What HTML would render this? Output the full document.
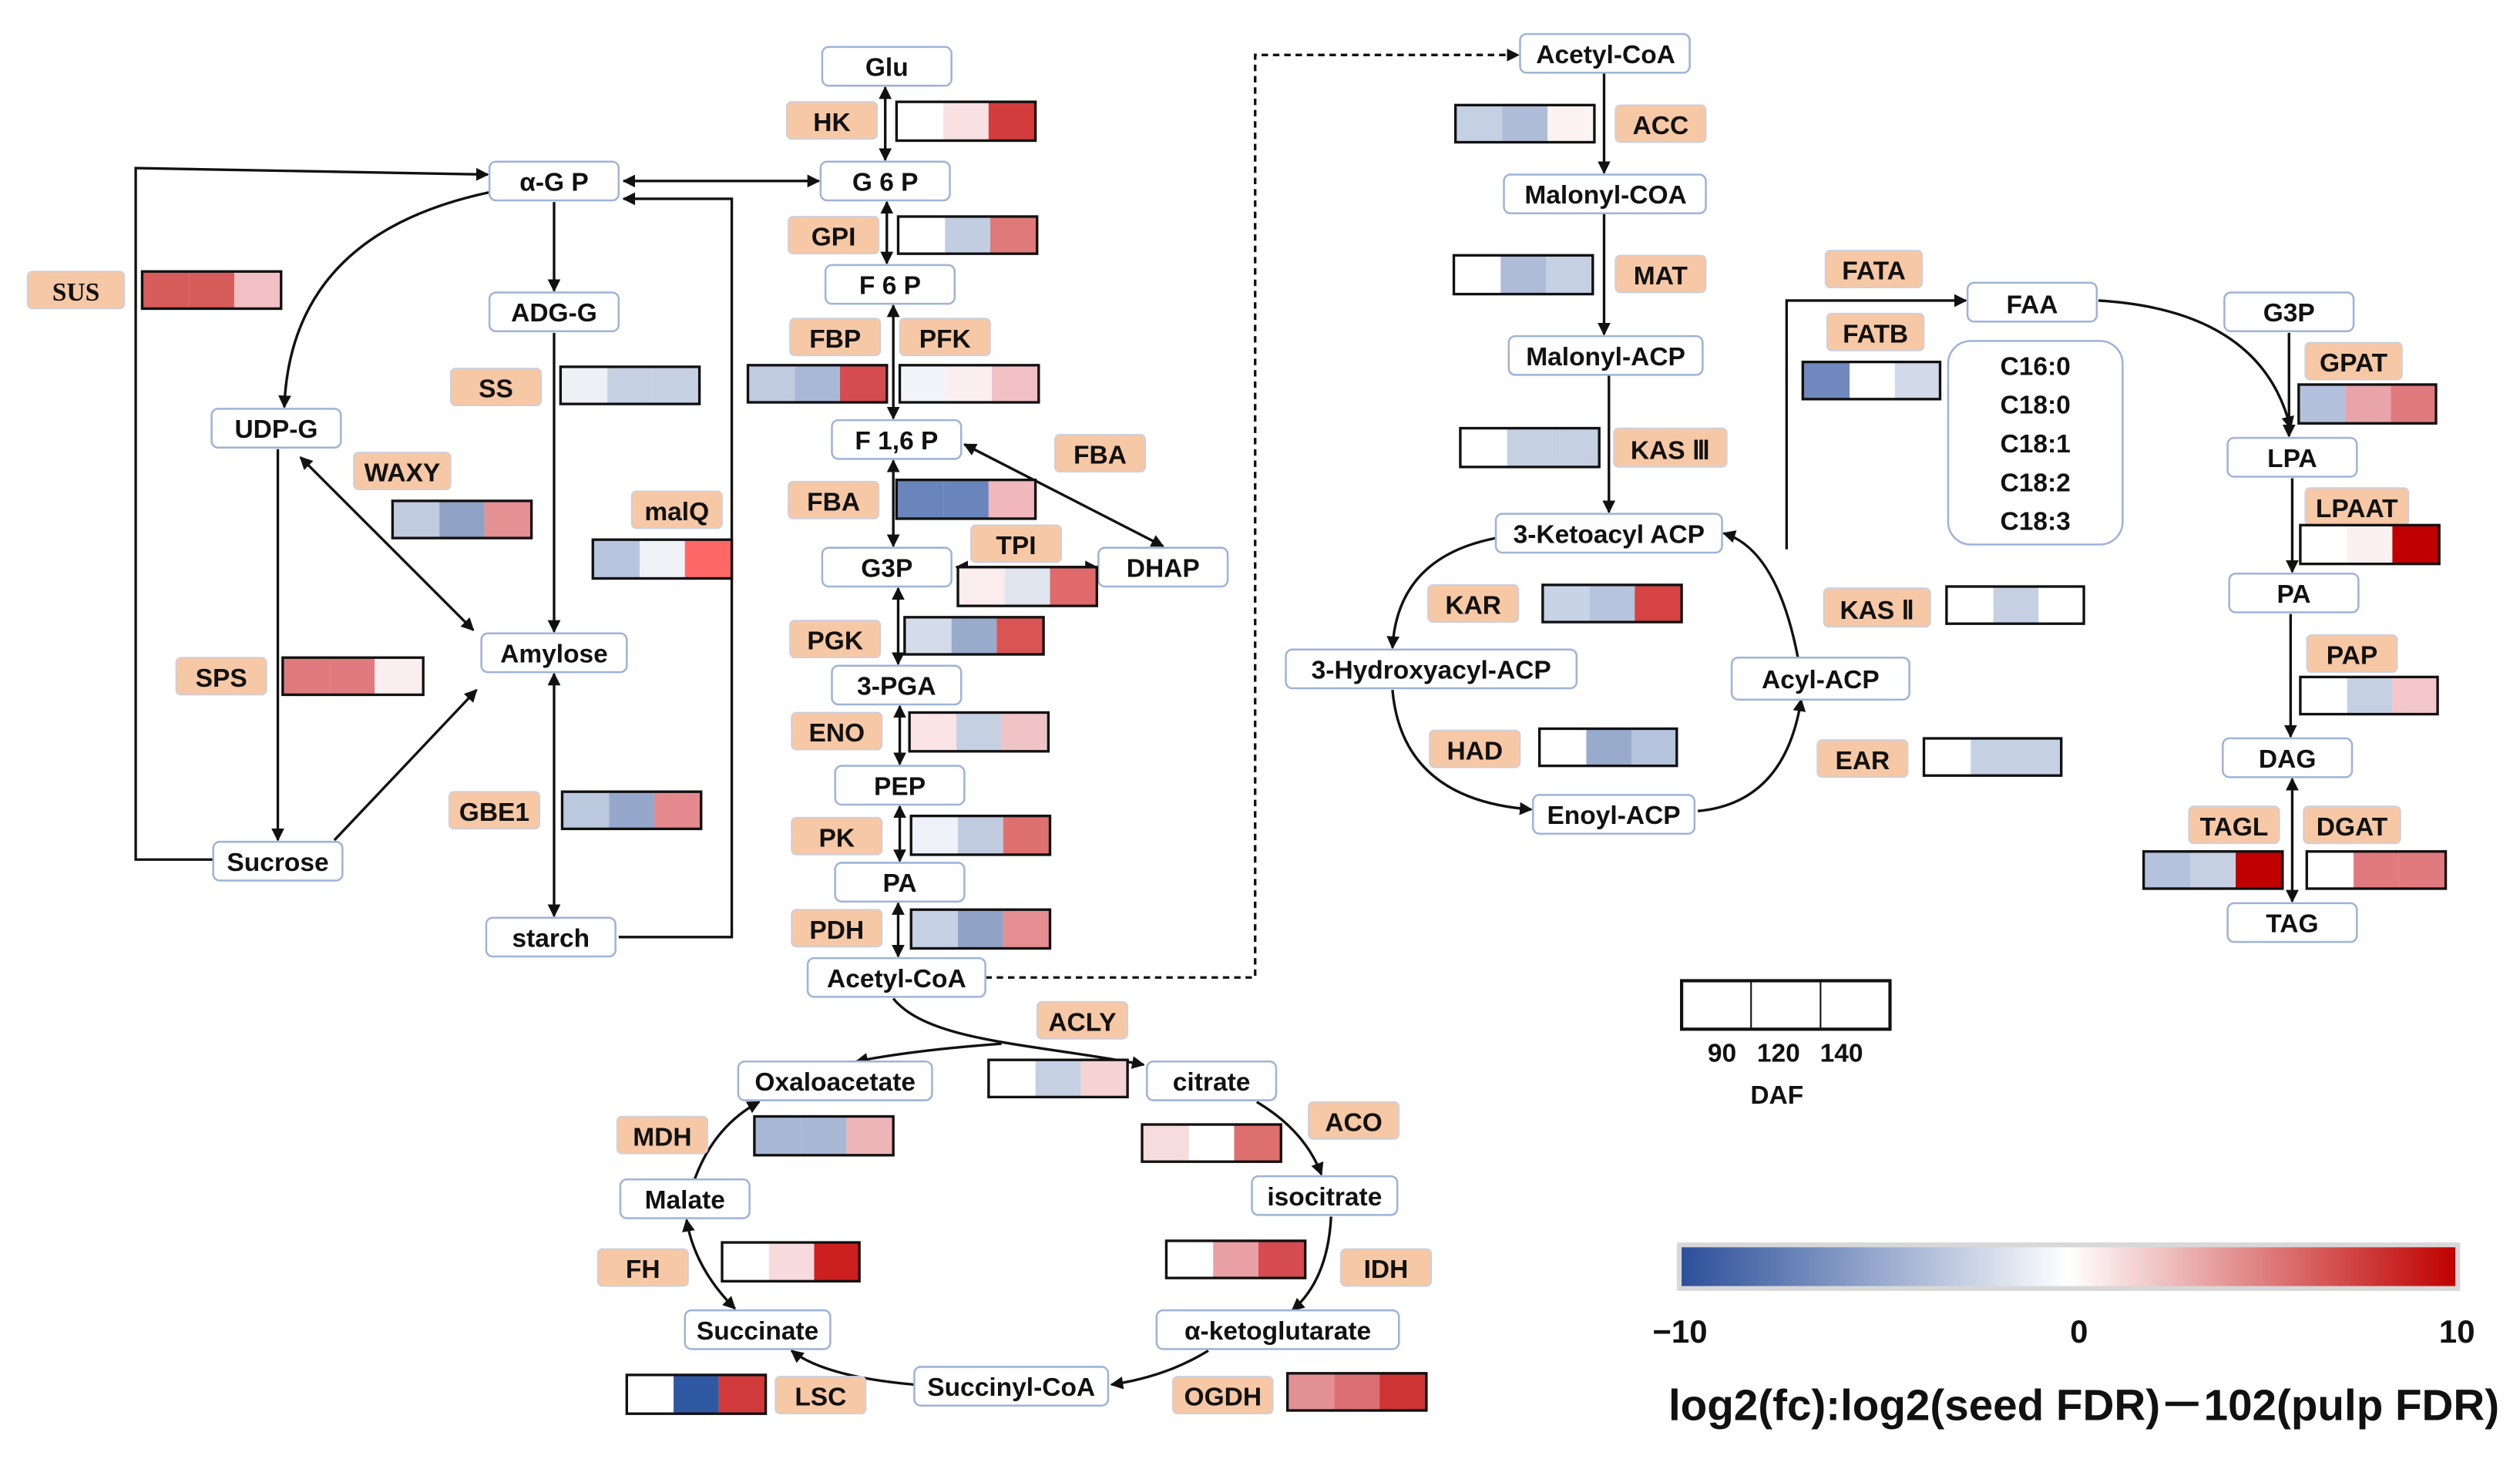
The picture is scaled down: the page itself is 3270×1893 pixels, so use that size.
<!DOCTYPE html>
<html><head><meta charset="utf-8"><style>
html,body{margin:0;padding:0;background:#fff;}
svg{display:block;}
text{font-family:"Liberation Sans Narrow","Liberation Sans",sans-serif;font-weight:bold;fill:#111;}
.n rect{fill:#fff;stroke:#9fb2d8;stroke-width:1.2;}
.e rect{fill:#f7c8a5;stroke:#c8cfe0;stroke-width:0.8;}
.h{stroke:#111;stroke-width:1.6;fill:none;}
.l{stroke:#111;stroke-width:1.6;fill:none;}
</style></head><body>
<svg width="3270" height="1893" viewBox="0 0 1560 903" xmlns="http://www.w3.org/2000/svg">
<defs>
<marker id="a" viewBox="0 0 10 10" refX="9" refY="5" markerWidth="5" markerHeight="5" orient="auto-start-reverse"><path d="M0,0L10,5L0,10z" fill="#111"/></marker>
<linearGradient id="cb" x1="0" x2="1" y1="0" y2="0"><stop offset="0" stop-color="#2b4f9a"/><stop offset="0.5" stop-color="#ffffff"/><stop offset="1" stop-color="#c00000"/></linearGradient>
</defs>
<rect width="1560" height="903" fill="#fff"/>

<!-- connectors -->
<g class="l">
<line x1="548" y1="54" x2="548" y2="99" marker-start="url(#a)" marker-end="url(#a)"/>
<line x1="549" y1="125" x2="549" y2="163" marker-start="url(#a)" marker-end="url(#a)"/>
<line x1="553" y1="189" x2="553" y2="259" marker-start="url(#a)" marker-end="url(#a)"/>
<line x1="553" y1="285" x2="553" y2="338" marker-start="url(#a)" marker-end="url(#a)"/>
<line x1="597" y1="275" x2="720" y2="338" marker-start="url(#a)" marker-end="url(#a)"/>
<line x1="592" y1="351" x2="679" y2="351" marker-start="url(#a)" marker-end="url(#a)"/>
<line x1="556" y1="364" x2="556" y2="411" marker-start="url(#a)" marker-end="url(#a)"/>
<line x1="557" y1="437" x2="557" y2="473" marker-start="url(#a)" marker-end="url(#a)"/>
<line x1="557" y1="499" x2="557" y2="533" marker-start="url(#a)" marker-end="url(#a)"/>
<line x1="556" y1="559" x2="556" y2="592" marker-start="url(#a)" marker-end="url(#a)"/>
<line x1="386" y1="112" x2="507" y2="112" marker-start="url(#a)" marker-end="url(#a)"/>
<path d="M383,580 L453,580 L453,123 L386,123" marker-end="url(#a)"/>
<line x1="343" y1="125" x2="343" y2="180" marker-end="url(#a)"/>
<line x1="343" y1="206" x2="343" y2="391" marker-end="url(#a)"/>
<line x1="343" y1="567" x2="343" y2="417" marker-start="url(#a)" marker-end="url(#a)"/>
<path d="M303,119 Q180,145 176,252" marker-end="url(#a)"/>
<line x1="186" y1="283" x2="293" y2="390" marker-start="url(#a)" marker-end="url(#a)"/>
<line x1="172" y1="278" x2="172" y2="520" marker-end="url(#a)"/>
<line x1="207" y1="520" x2="295" y2="427" marker-end="url(#a)"/>
<path d="M132,532 L84,532 L84,104 L302,108" marker-end="url(#a)"/>
<path d="M610,605 L777,605 L777,34 L940,34" stroke-dasharray="4,3" marker-end="url(#a)"/>
<path d="M553,618 C575,645 640,646 708,659" marker-end="url(#a)"/>
<path d="M620,646 Q565,650 530,657" marker-end="url(#a)"/>
<path d="M778,682 Q808,700 818,727" marker-end="url(#a)"/>
<path d="M824,753 Q822,792 800,811" marker-end="url(#a)"/>
<path d="M748,836 Q722,852 688,857" marker-end="url(#a)"/>
<path d="M566,857 Q510,852 490,836" marker-end="url(#a)"/>
<path d="M455,810 Q430,785 425,755" marker-start="url(#a)" marker-end="url(#a)"/>
<path d="M430,730 Q442,697 470,682" marker-end="url(#a)"/>
<line x1="993" y1="45" x2="993" y2="107" marker-end="url(#a)"/>
<line x1="993" y1="132" x2="993" y2="207" marker-end="url(#a)"/>
<line x1="996" y1="232" x2="996" y2="317" marker-end="url(#a)"/>
<path d="M926,333 Q865,345 862,401" marker-end="url(#a)"/>
<path d="M862,427 Q868,495 948,501" marker-end="url(#a)"/>
<path d="M1051,502 Q1105,497 1115,433" marker-end="url(#a)"/>
<path d="M1113,407 Q1100,340 1067,330" marker-end="url(#a)"/>
<path d="M1106,340 L1106,186 L1217,186" marker-end="url(#a)"/>
<path d="M1299,186 Q1400,192 1418,265" marker-end="url(#a)"/>
<line x1="1417" y1="206" x2="1417" y2="270" marker-end="url(#a)"/>
<line x1="1419" y1="296" x2="1419" y2="354" marker-end="url(#a)"/>
<line x1="1418" y1="380" x2="1418" y2="456" marker-end="url(#a)"/>
<line x1="1419" y1="482" x2="1419" y2="558" marker-start="url(#a)" marker-end="url(#a)"/>
</g>

<!-- metabolites -->
<g class="n" font-size="16">
<rect x="509" y="29" width="80" height="24" rx="4"/><text x="549" y="47" text-anchor="middle">Glu</text>
<rect x="508" y="100" width="80" height="24" rx="4"/><text x="548" y="118" text-anchor="middle">G 6 P</text>
<rect x="511" y="164" width="80" height="24" rx="4"/><text x="551" y="182" text-anchor="middle">F 6 P</text>
<rect x="515" y="260" width="80" height="24" rx="4"/><text x="555" y="278" text-anchor="middle">F 1,6 P</text>
<rect x="509" y="339" width="80" height="24" rx="4"/><text x="549" y="357" text-anchor="middle">G3P</text>
<rect x="680" y="339" width="80" height="24" rx="4"/><text x="720" y="357" text-anchor="middle">DHAP</text>
<rect x="515" y="412" width="80" height="24" rx="4"/><text x="555" y="430" text-anchor="middle">3-PGA</text>
<rect x="517" y="474" width="80" height="24" rx="4"/><text x="557" y="492" text-anchor="middle">PEP</text>
<rect x="517" y="534" width="80" height="24" rx="4"/><text x="557" y="552" text-anchor="middle">PA</text>
<rect x="500" y="593" width="110" height="24" rx="4"/><text x="555" y="611" text-anchor="middle">Acetyl-CoA</text>
<rect x="303" y="100" width="80" height="24" rx="4"/><text x="343" y="118" text-anchor="middle">α-G P</text>
<rect x="303" y="181" width="80" height="24" rx="4"/><text x="343" y="199" text-anchor="middle">ADG-G</text>
<rect x="131" y="253" width="80" height="24" rx="4"/><text x="171" y="271" text-anchor="middle">UDP-G</text>
<rect x="298" y="392" width="90" height="24" rx="4"/><text x="343" y="410" text-anchor="middle">Amylose</text>
<rect x="132" y="521" width="80" height="24" rx="4"/><text x="172" y="539" text-anchor="middle">Sucrose</text>
<rect x="301" y="568" width="80" height="24" rx="4"/><text x="341" y="586" text-anchor="middle">starch</text>
<rect x="457" y="657" width="120" height="24" rx="4"/><text x="517" y="675" text-anchor="middle">Oxaloacetate</text>
<rect x="710" y="657" width="80" height="24" rx="4"/><text x="750" y="675" text-anchor="middle">citrate</text>
<rect x="384" y="730" width="80" height="24" rx="4"/><text x="424" y="748" text-anchor="middle">Malate</text>
<rect x="775" y="728" width="90" height="24" rx="4"/><text x="820" y="746" text-anchor="middle">isocitrate</text>
<rect x="424" y="811" width="90" height="24" rx="4"/><text x="469" y="829" text-anchor="middle">Succinate</text>
<rect x="716" y="811" width="150" height="24" rx="4"/><text x="791" y="829" text-anchor="middle">α-ketoglutarate</text>
<rect x="566" y="846" width="120" height="24" rx="4"/><text x="626" y="864" text-anchor="middle">Succinyl-CoA</text>
<rect x="941" y="21" width="105" height="24" rx="4"/><text x="994" y="39" text-anchor="middle">Acetyl-CoA</text>
<rect x="931" y="108" width="125" height="24" rx="4"/><text x="994" y="126" text-anchor="middle">Malonyl-COA</text>
<rect x="934" y="208" width="120" height="24" rx="4"/><text x="994" y="226" text-anchor="middle">Malonyl-ACP</text>
<rect x="926" y="318" width="140" height="24" rx="4"/><text x="996" y="336" text-anchor="middle">3-Ketoacyl ACP</text>
<rect x="796" y="402" width="180" height="24" rx="4"/><text x="886" y="420" text-anchor="middle">3-Hydroxyacyl-ACP</text>
<rect x="1072" y="407" width="110" height="26" rx="4"/><text x="1127" y="426" text-anchor="middle">Acyl-ACP</text>
<rect x="949" y="492" width="100" height="24" rx="4"/><text x="999" y="510" text-anchor="middle">Enoyl-ACP</text>
<rect x="1218" y="175" width="80" height="24" rx="4"/><text x="1258" y="194" text-anchor="middle">FAA</text>
<rect x="1206" y="211" width="108" height="126" rx="14"/>
<text x="1260" y="232" text-anchor="middle">C16:0</text>
<text x="1260" y="256" text-anchor="middle">C18:0</text>
<text x="1260" y="280" text-anchor="middle">C18:1</text>
<text x="1260" y="304" text-anchor="middle">C18:2</text>
<text x="1260" y="328" text-anchor="middle">C18:3</text>
<rect x="1377" y="181" width="80" height="24" rx="4"/><text x="1417" y="199" text-anchor="middle">G3P</text>
<rect x="1379" y="271" width="80" height="24" rx="4"/><text x="1419" y="289" text-anchor="middle">LPA</text>
<rect x="1380" y="355" width="80" height="24" rx="4"/><text x="1420" y="373" text-anchor="middle">PA</text>
<rect x="1376" y="457" width="80" height="24" rx="4"/><text x="1416" y="475" text-anchor="middle">DAG</text>
<rect x="1379" y="559" width="80" height="24" rx="4"/><text x="1419" y="577" text-anchor="middle">TAG</text>
</g>

<!-- enzymes -->
<g class="e" font-size="16">
<rect x="487" y="63" width="56" height="23" rx="3"/><text x="515" y="81" text-anchor="middle">HK</text>
<rect x="488" y="134" width="56" height="23" rx="3"/><text x="516" y="152" text-anchor="middle">GPI</text>
<rect x="17" y="168" width="60" height="23" rx="3"/><text x="47" y="186" text-anchor="middle" style="font-family:'Liberation Serif',serif">SUS</text>
<rect x="489" y="197" width="56" height="23" rx="3"/><text x="517" y="215" text-anchor="middle">FBP</text>
<rect x="557" y="197" width="56" height="23" rx="3"/><text x="585" y="215" text-anchor="middle">PFK</text>
<rect x="279" y="228" width="56" height="23" rx="3"/><text x="307" y="246" text-anchor="middle">SS</text>
<rect x="219" y="280" width="60" height="23" rx="3"/><text x="249" y="298" text-anchor="middle">WAXY</text>
<rect x="391" y="304" width="56" height="23" rx="3"/><text x="419" y="322" text-anchor="middle">malQ</text>
<rect x="653" y="269" width="56" height="23" rx="3"/><text x="681" y="287" text-anchor="middle">FBA</text>
<rect x="488" y="298" width="56" height="23" rx="3"/><text x="516" y="316" text-anchor="middle">FBA</text>
<rect x="601" y="325" width="56" height="23" rx="3"/><text x="629" y="343" text-anchor="middle">TPI</text>
<rect x="489" y="384" width="56" height="23" rx="3"/><text x="517" y="402" text-anchor="middle">PGK</text>
<rect x="109" y="407" width="56" height="23" rx="3"/><text x="137" y="425" text-anchor="middle">SPS</text>
<rect x="490" y="441" width="56" height="23" rx="3"/><text x="518" y="459" text-anchor="middle">ENO</text>
<rect x="278" y="490" width="56" height="23" rx="3"/><text x="306" y="508" text-anchor="middle">GBE1</text>
<rect x="490" y="506" width="56" height="23" rx="3"/><text x="518" y="524" text-anchor="middle">PK</text>
<rect x="490" y="563" width="56" height="23" rx="3"/><text x="518" y="581" text-anchor="middle">PDH</text>
<rect x="642" y="620" width="56" height="23" rx="3"/><text x="670" y="638" text-anchor="middle">ACLY</text>
<rect x="810" y="682" width="56" height="23" rx="3"/><text x="838" y="700" text-anchor="middle">ACO</text>
<rect x="382" y="691" width="56" height="23" rx="3"/><text x="410" y="709" text-anchor="middle">MDH</text>
<rect x="370" y="773" width="56" height="23" rx="3"/><text x="398" y="791" text-anchor="middle">FH</text>
<rect x="830" y="773" width="56" height="23" rx="3"/><text x="858" y="791" text-anchor="middle">IDH</text>
<rect x="480" y="852" width="56" height="23" rx="3"/><text x="508" y="870" text-anchor="middle">LSC</text>
<rect x="726" y="852" width="62" height="23" rx="3"/><text x="757" y="870" text-anchor="middle">OGDH</text>
<rect x="1000" y="65" width="56" height="23" rx="3"/><text x="1028" y="83" text-anchor="middle">ACC</text>
<rect x="1000" y="158" width="56" height="23" rx="3"/><text x="1028" y="176" text-anchor="middle">MAT</text>
<rect x="999" y="265" width="70" height="24" rx="3"/><text x="1034" y="284" text-anchor="middle">KAS Ⅲ</text>
<rect x="884" y="362" width="56" height="23" rx="3"/><text x="912" y="380" text-anchor="middle">KAR</text>
<rect x="885" y="452" width="56" height="23" rx="3"/><text x="913" y="470" text-anchor="middle">HAD</text>
<rect x="1129" y="364" width="66" height="24" rx="3"/><text x="1162" y="383" text-anchor="middle">KAS Ⅱ</text>
<rect x="1125" y="458" width="56" height="23" rx="3"/><text x="1153" y="476" text-anchor="middle">EAR</text>
<rect x="1130" y="155" width="60" height="23" rx="3"/><text x="1160" y="173" text-anchor="middle">FATA</text>
<rect x="1131" y="194" width="60" height="23" rx="3"/><text x="1161" y="212" text-anchor="middle">FATB</text>
<rect x="1427" y="212" width="60" height="23" rx="3"/><text x="1457" y="230" text-anchor="middle">GPAT</text>
<rect x="1427" y="302" width="64" height="23" rx="3"/><text x="1459" y="320" text-anchor="middle">LPAAT</text>
<rect x="1428" y="393" width="56" height="23" rx="3"/><text x="1456" y="411" text-anchor="middle">PAP</text>
<rect x="1355" y="499" width="56" height="23" rx="3"/><text x="1383" y="517" text-anchor="middle">TAGL</text>
<rect x="1426" y="499" width="60" height="23" rx="3"/><text x="1456" y="517" text-anchor="middle">DGAT</text>
</g>

<!-- heatmaps: x,y,w=86,h=23 -->
<g>
<g transform="translate(555,63)"><rect width="29" height="24" fill="#fff"/><rect x="29" width="28" height="24" fill="#f8e0e3"/><rect x="57" width="29" height="24" fill="#d23c3c"/><rect class="h" width="86" height="24"/></g>
<g transform="translate(556,134)"><rect width="29" height="23" fill="#fff"/><rect x="29" width="28" height="23" fill="#c3cde2"/><rect x="57" width="29" height="23" fill="#e07a7a"/><rect class="h" width="86" height="23"/></g>
<g transform="translate(88,168)"><rect width="29" height="23" fill="#d65c5c"/><rect x="29" width="28" height="23" fill="#d65c5c"/><rect x="57" width="29" height="23" fill="#f0c0c4"/><rect class="h" width="86" height="23"/></g>
<g transform="translate(463,226)"><rect width="29" height="23" fill="#c0cbe0"/><rect x="29" width="28" height="23" fill="#a9b8d6"/><rect x="57" width="29" height="23" fill="#d54b4f"/><rect class="h" width="86" height="23"/></g>
<g transform="translate(557,226)"><rect width="29" height="23" fill="#f3f4f9"/><rect x="29" width="28" height="23" fill="#faeef0"/><rect x="57" width="29" height="23" fill="#f0c0c4"/><rect class="h" width="86" height="23"/></g>
<g transform="translate(347,227)"><rect width="29" height="23" fill="#eef0f6"/><rect x="29" width="28" height="23" fill="#c5d0e3"/><rect x="57" width="29" height="23" fill="#c5d0e3"/><rect class="h" width="86" height="23"/></g>
<g transform="translate(243,310)"><rect width="29" height="23" fill="#c0cbe0"/><rect x="29" width="28" height="23" fill="#8fa2c6"/><rect x="57" width="29" height="23" fill="#e59194"/><rect class="h" width="86" height="23"/></g>
<g transform="translate(367,334)"><rect width="29" height="24" fill="#b8c5de"/><rect x="29" width="28" height="24" fill="#eff1f7"/><rect x="57" width="29" height="24" fill="#ff6666"/><rect class="h" width="86" height="24"/></g>
<g transform="translate(555,297)"><rect width="29" height="24" fill="#6a85bb"/><rect x="29" width="28" height="24" fill="#6a85bb"/><rect x="57" width="29" height="24" fill="#f0b8bc"/><rect class="h" width="86" height="24"/></g>
<g transform="translate(593,351)"><rect width="29" height="24" fill="#fbecee"/><rect x="29" width="28" height="24" fill="#dfe4ee"/><rect x="57" width="29" height="24" fill="#e06a6a"/><rect class="h" width="86" height="24"/></g>
<g transform="translate(560,382)"><rect width="29" height="23" fill="#d4dcea"/><rect x="29" width="28" height="23" fill="#99abcc"/><rect x="57" width="29" height="23" fill="#d95555"/><rect class="h" width="86" height="23"/></g>
<g transform="translate(175,407)"><rect width="29" height="23" fill="#df7a7e"/><rect x="29" width="28" height="23" fill="#df7a7e"/><rect x="57" width="29" height="23" fill="#fbeeef"/><rect class="h" width="87" height="23"/></g>
<g transform="translate(563,441)"><rect width="29" height="24" fill="#fae4e6"/><rect x="29" width="28" height="24" fill="#c5d0e3"/><rect x="57" width="29" height="24" fill="#f0c3c6"/><rect class="h" width="86" height="24"/></g>
<g transform="translate(348,490)"><rect width="29" height="23" fill="#bcc8de"/><rect x="29" width="28" height="23" fill="#95a7ca"/><rect x="57" width="29" height="23" fill="#e48a8e"/><rect class="h" width="86" height="23"/></g>
<g transform="translate(564,505)"><rect width="29" height="24" fill="#eef1f7"/><rect x="29" width="28" height="24" fill="#c0cbe0"/><rect x="57" width="29" height="24" fill="#df7070"/><rect class="h" width="86" height="24"/></g>
<g transform="translate(564,563)"><rect width="29" height="24" fill="#c6d0e4"/><rect x="29" width="28" height="24" fill="#8fa2c6"/><rect x="57" width="29" height="24" fill="#e58e92"/><rect class="h" width="86" height="24"/></g>
<g transform="translate(612,656)"><rect width="29" height="23" fill="#fff"/><rect x="29" width="28" height="23" fill="#c5d0e3"/><rect x="57" width="29" height="23" fill="#f5d2d4"/><rect class="h" width="86" height="23"/></g>
<g transform="translate(707,696)"><rect width="29" height="23" fill="#f7dcde"/><rect x="29" width="28" height="23" fill="#fff"/><rect x="57" width="29" height="23" fill="#df7070"/><rect class="h" width="86" height="23"/></g>
<g transform="translate(467,691)"><rect width="29" height="24" fill="#a8b8d4"/><rect x="29" width="28" height="24" fill="#a8b8d4"/><rect x="57" width="29" height="24" fill="#eeb5b8"/><rect class="h" width="86" height="24"/></g>
<g transform="translate(447,769)"><rect width="29" height="24" fill="#fff"/><rect x="29" width="28" height="24" fill="#f7dadd"/><rect x="57" width="28" height="24" fill="#cc2020"/><rect class="h" width="85" height="24"/></g>
<g transform="translate(722,768)"><rect width="29" height="23" fill="#fff"/><rect x="29" width="28" height="23" fill="#e9a0a4"/><rect x="57" width="29" height="23" fill="#d54b4f"/><rect class="h" width="86" height="23"/></g>
<g transform="translate(388,851)"><rect width="29" height="24" fill="#fff"/><rect x="29" width="28" height="24" fill="#2f58a3"/><rect x="57" width="29" height="24" fill="#d03a3a"/><rect class="h" width="86" height="24"/></g>
<g transform="translate(797,850)"><rect width="29" height="23" fill="#e39094"/><rect x="29" width="28" height="23" fill="#dc6f74"/><rect x="57" width="29" height="23" fill="#cf3535"/><rect class="h" width="86" height="23"/></g>
<g transform="translate(901,65)"><rect width="29" height="23" fill="#c5d0e3"/><rect x="29" width="28" height="23" fill="#aebcd8"/><rect x="57" width="29" height="23" fill="#fbf2f3"/><rect class="h" width="86" height="23"/></g>
<g transform="translate(900,158)"><rect width="29" height="24" fill="#fff"/><rect x="29" width="28" height="24" fill="#aebcd8"/><rect x="57" width="29" height="24" fill="#c5d0e3"/><rect class="h" width="86" height="24"/></g>
<g transform="translate(904,265)"><rect width="29" height="24" fill="#fff"/><rect x="29" width="28" height="24" fill="#c5d0e3"/><rect x="57" width="29" height="24" fill="#c5d0e3"/><rect class="h" width="86" height="24"/></g>
<g transform="translate(955,362)"><rect width="29" height="23" fill="#c9d3e6"/><rect x="29" width="28" height="23" fill="#b6c3dd"/><rect x="57" width="29" height="23" fill="#d64343"/><rect class="h" width="86" height="23"/></g>
<g transform="translate(953,451)"><rect width="29" height="23" fill="#fff"/><rect x="29" width="28" height="23" fill="#99abcc"/><rect x="57" width="28" height="23" fill="#b6c3dd"/><rect class="h" width="85" height="23"/></g>
<g transform="translate(1205,363)"><rect width="29" height="23" fill="#fff"/><rect x="29" width="28" height="23" fill="#c5d0e3"/><rect x="57" width="28" height="23" fill="#fff"/><rect class="h" width="85" height="23"/></g>
<g transform="translate(1191,457)"><rect width="29" height="23" fill="#fff"/><rect x="29" width="28" height="23" fill="#c5d0e3"/><rect x="57" width="28" height="23" fill="#c5d0e3"/><rect class="h" width="85" height="23"/></g>
<g transform="translate(1116,224)"><rect width="29" height="23" fill="#7088bd"/><rect x="29" width="28" height="23" fill="#fff"/><rect x="57" width="28" height="23" fill="#d2dae9"/><rect class="h" width="85" height="23"/></g>
<g transform="translate(1423,238)"><rect width="29" height="24" fill="#b3c1dc"/><rect x="29" width="28" height="24" fill="#e8a4a8"/><rect x="57" width="28" height="24" fill="#df7a7e"/><rect class="h" width="85" height="24"/></g>
<g transform="translate(1424,325)"><rect width="29" height="24" fill="#fff"/><rect x="29" width="28" height="24" fill="#fbf0f1"/><rect x="57" width="29" height="24" fill="#c00000"/><rect class="h" width="86" height="24"/></g>
<g transform="translate(1424,419)"><rect width="29" height="23" fill="#fff"/><rect x="29" width="28" height="23" fill="#c5d0e3"/><rect x="57" width="28" height="23" fill="#f3c6c9"/><rect class="h" width="85" height="23"/></g>
<g transform="translate(1327,527)"><rect width="29" height="23" fill="#b5c2dc"/><rect x="29" width="28" height="23" fill="#c5d0e3"/><rect x="57" width="29" height="23" fill="#c00000"/><rect class="h" width="86" height="23"/></g>
<g transform="translate(1428,527)"><rect width="29" height="23" fill="#fff"/><rect x="29" width="28" height="23" fill="#e07a7e"/><rect x="57" width="29" height="23" fill="#e07a7e"/><rect class="h" width="86" height="23"/></g>
</g>

<!-- legend -->
<g>
<rect x="1041" y="607" width="129" height="30" fill="#fff" stroke="#111" stroke-width="2"/>
<line x1="1084" y1="607" x2="1084" y2="637" stroke="#111" stroke-width="1"/>
<line x1="1127" y1="607" x2="1127" y2="637" stroke="#111" stroke-width="1"/>
<text x="1066" y="657" font-size="16" text-anchor="middle">90</text>
<text x="1101" y="657" font-size="16" text-anchor="middle">120</text>
<text x="1140" y="657" font-size="16" text-anchor="middle">140</text>
<text x="1100" y="683" font-size="16" text-anchor="middle">DAF</text>
<rect x="1038" y="769" width="485" height="30" fill="#d8d8d8"/>
<rect x="1041" y="772" width="479" height="24" fill="url(#cb)"/>
<text x="1040" y="831" font-size="20" text-anchor="middle">−10</text>
<text x="1287" y="831" font-size="20" text-anchor="middle">0</text>
<text x="1521" y="831" font-size="20" text-anchor="middle">10</text>
<text x="1290" y="879" font-size="27" text-anchor="middle" style="font-family:'Liberation Sans',sans-serif">log2(fc):log2(seed FDR)－102(pulp FDR)</text>
</g>
</svg>
</body></html>
